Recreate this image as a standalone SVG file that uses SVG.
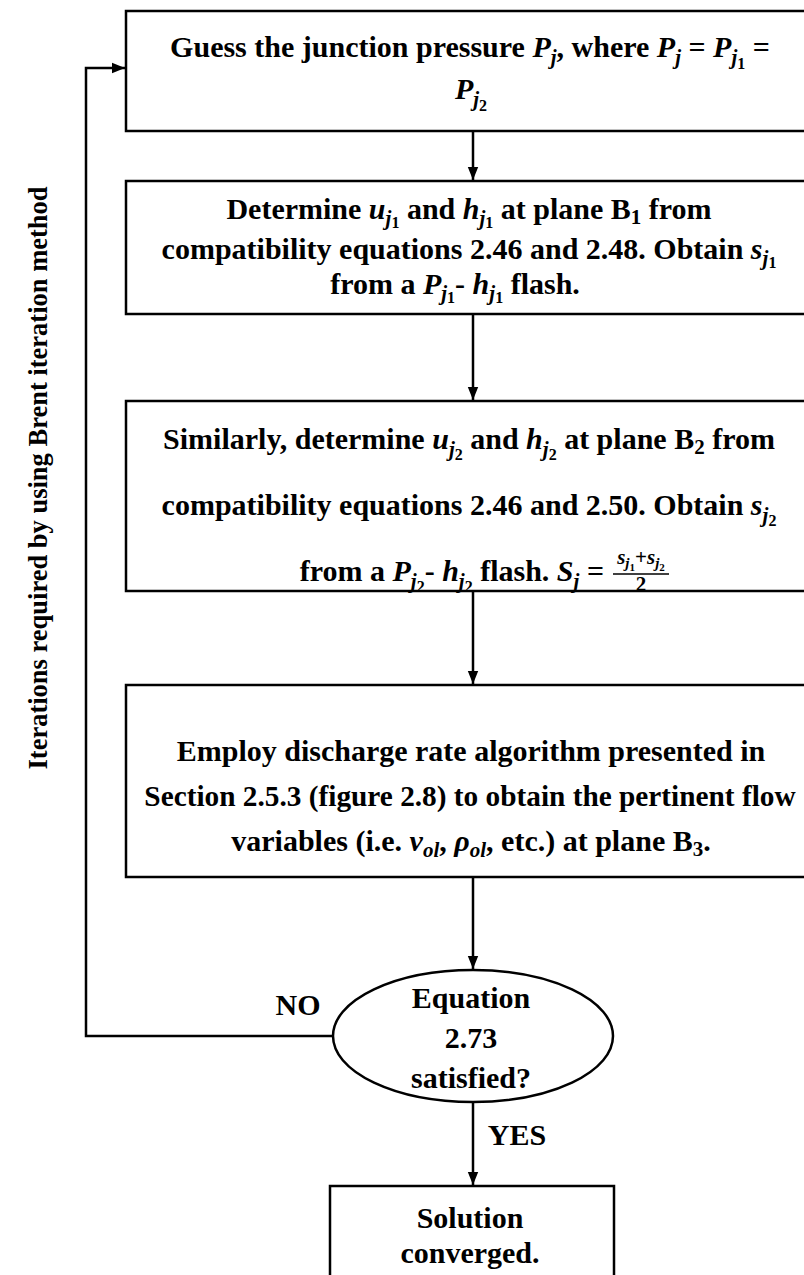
<svg xmlns="http://www.w3.org/2000/svg" width="804" height="1275" viewBox="0 0 804 1275">
<defs>
<marker id="ah" viewBox="0 0 10 10" refX="10" refY="5" markerWidth="13" markerHeight="13" orient="auto" markerUnits="userSpaceOnUse">
<path d="M0,1 L10,5 L0,9 z" fill="#000"/>
</marker>
<style>
.box{fill:#fff;stroke:#000;stroke-width:2.5}
.t{font-family:"Liberation Serif","Times New Roman",serif;font-weight:bold;font-size:30px;fill:#000;text-anchor:middle}
.m{font-style:italic}
.s{font-size:21px}
.ss{font-size:16px}
.c{fill:none;stroke:#000;stroke-width:2.5}
</style>
</defs>
<rect width="804" height="1275" fill="#fff"/>
<g id="connectors">
<path class="c" d="M473,131 V180" marker-end="url(#ah)"/>
<path class="c" d="M473,314 V400" marker-end="url(#ah)"/>
<path class="c" d="M473,591 V684" marker-end="url(#ah)"/>
<path class="c" d="M473,877 V969" marker-end="url(#ah)"/>
<path class="c" d="M333,1036 H86 V68 H125" marker-end="url(#ah)"/>
<path class="c" d="M473,1102 V1185" marker-end="url(#ah)"/>
<text class="t" x="298" y="1015" style="font-size:30px">NO</text>
<text class="t" x="517" y="1145" style="font-size:30px">YES</text>
</g>
<g id="label-brent">
<text class="t" transform="translate(47,478) rotate(-90)" style="font-size:26.5px">Iterations required by using Brent iteration method</text>
</g>
<g id="n1">
<rect class="box" x="126" y="11" width="690" height="120"/>
<text class="t" x="470" y="57">Guess the junction pressure <tspan class="m">P</tspan><tspan class="m s" baseline-shift="-7">j</tspan>, where <tspan class="m">P</tspan><tspan class="m s" baseline-shift="-7">j</tspan> = <tspan class="m">P</tspan><tspan class="m s" baseline-shift="-7">j</tspan><tspan class="ss" baseline-shift="-12">1</tspan> =</text>
<text class="t" x="471" y="99"><tspan class="m">P</tspan><tspan class="m s" baseline-shift="-7">j</tspan><tspan class="ss" baseline-shift="-12">2</tspan></text>
</g>
<g id="n2">
<rect class="box" x="126" y="181" width="690" height="133"/>
<text class="t" x="469" y="219">Determine <tspan class="m">u</tspan><tspan class="m s" baseline-shift="-6">j</tspan><tspan class="ss" baseline-shift="-9">1</tspan> and <tspan class="m">h</tspan><tspan class="m s" baseline-shift="-6">j</tspan><tspan class="ss" baseline-shift="-9">1</tspan> at plane B<tspan class="s" baseline-shift="-5">1</tspan> from</text>
<text class="t" x="469" y="259">compatibility equations 2.46 and 2.48. Obtain <tspan class="m">s</tspan><tspan class="m s" baseline-shift="-6">j</tspan><tspan class="ss" baseline-shift="-9">1</tspan></text>
<text class="t" x="455" y="294">from a <tspan class="m">P</tspan><tspan class="m s" baseline-shift="-6">j</tspan><tspan class="ss" baseline-shift="-9">1</tspan>- <tspan class="m">h</tspan><tspan class="m s" baseline-shift="-6">j</tspan><tspan class="ss" baseline-shift="-9">1</tspan> flash.</text>
</g>
<g id="n3">
<rect class="box" x="126" y="401" width="690" height="190"/>
<text class="t" x="469" y="449">Similarly, determine <tspan class="m">u</tspan><tspan class="m s" baseline-shift="-7">j</tspan><tspan class="ss" baseline-shift="-11">2</tspan> and <tspan class="m">h</tspan><tspan class="m s" baseline-shift="-7">j</tspan><tspan class="ss" baseline-shift="-11">2</tspan> at plane B<tspan class="s" baseline-shift="-5">2</tspan> from</text>
<text class="t" x="469" y="515">compatibility equations 2.46 and 2.50. Obtain <tspan class="m">s</tspan><tspan class="m s" baseline-shift="-7">j</tspan><tspan class="ss" baseline-shift="-11">2</tspan></text>
<text class="t" x="604" y="581" style="text-anchor:end">from a <tspan class="m">P</tspan><tspan class="m s" baseline-shift="-7">j</tspan><tspan class="ss" baseline-shift="-11">2</tspan>- <tspan class="m">h</tspan><tspan class="m s" baseline-shift="-7">j</tspan><tspan class="ss" baseline-shift="-11">2</tspan> flash. <tspan class="m">S</tspan><tspan class="m s" baseline-shift="-7">j</tspan> =</text>
<text class="t" x="641" y="564" style="font-size:21px"><tspan class="m">s</tspan><tspan class="m" style="font-size:15px" baseline-shift="-4">j</tspan><tspan style="font-size:11px" baseline-shift="-7">1</tspan>+<tspan class="m">s</tspan><tspan class="m" style="font-size:15px" baseline-shift="-4">j</tspan><tspan style="font-size:11px" baseline-shift="-7">2</tspan></text>
<line x1="613" y1="574" x2="669" y2="574" stroke="#000" stroke-width="1.5"/>
<text class="t" x="641" y="591" style="font-size:21px">2</text>
</g>
<g id="n4">
<rect class="box" x="126" y="685" width="690" height="192"/>
<text class="t" x="471" y="761">Employ discharge rate algorithm presented in</text>
<text class="t" x="470" y="806" style="font-size:29.3px">Section 2.5.3 (figure 2.8) to obtain the pertinent flow</text>
<text class="t" x="471" y="851">variables (i.e. <tspan class="m">v</tspan><tspan class="m s" baseline-shift="-6">ol</tspan>, <tspan class="m">ρ</tspan><tspan class="m s" baseline-shift="-6">ol</tspan>, etc.) at plane B<tspan class="s" baseline-shift="-5">3</tspan>.</text>
</g>
<g id="n5">
<ellipse class="box" cx="473" cy="1036" rx="140" ry="66"/>
<text class="t" x="471" y="1008">Equation</text>
<text class="t" x="471" y="1048">2.73</text>
<text class="t" x="471" y="1088">satisfied?</text>
</g>
<g id="n6">
<rect class="box" x="330" y="1186" width="284" height="100"/>
<text class="t" x="470" y="1228">Solution</text>
<text class="t" x="470" y="1263">converged.</text>
</g>
</svg>
